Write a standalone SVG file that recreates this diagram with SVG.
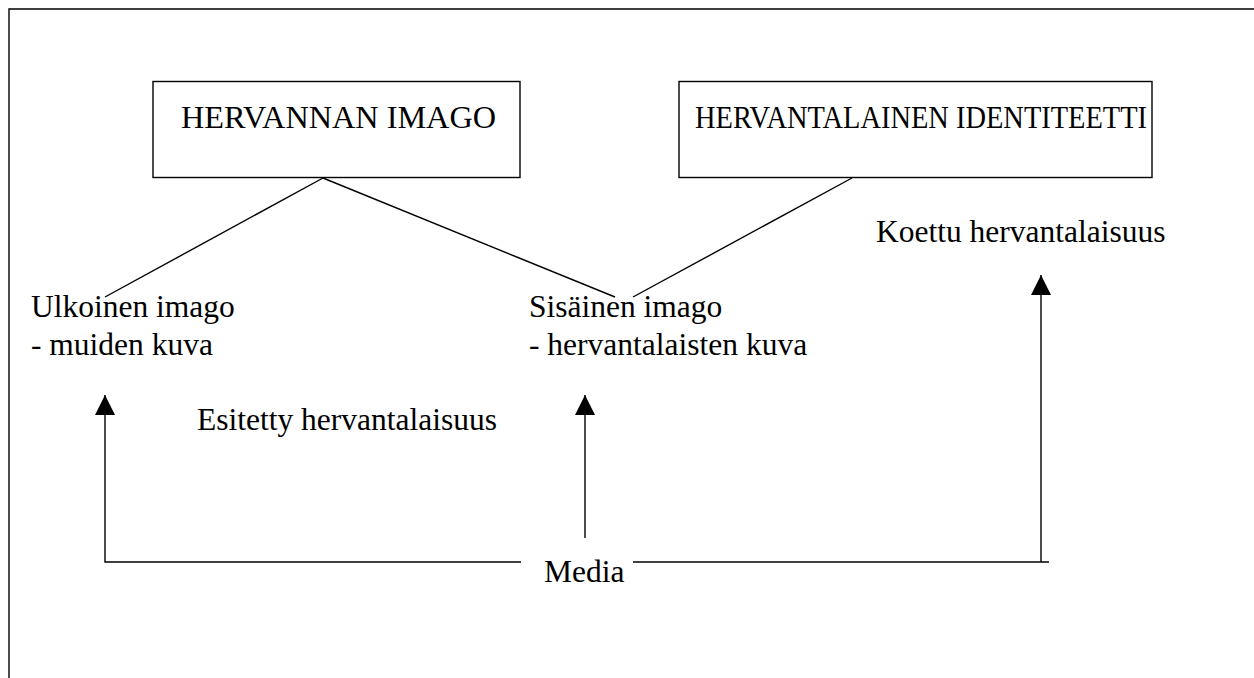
<svg xmlns="http://www.w3.org/2000/svg" width="1254" height="678" viewBox="0 0 1254 678">
<style>
  text { font-family: "Liberation Serif", "Times New Roman", serif; font-size: 31.5px; fill: #000; }
  .box { fill: #fff; stroke: #000; stroke-width: 1.4; }
  .ln { fill: none; stroke: #000; stroke-width: 1.4; }
</style>
<defs>
  <marker id="arr" markerUnits="userSpaceOnUse" markerWidth="22" markerHeight="22" viewBox="0 0 22 22" refX="20" refY="11" orient="auto">
    <path d="M20,11 L0,1 L0,21 Z" fill="#000"/>
  </marker>
</defs>
<rect width="1254" height="678" fill="#fff"/>
<g id="frame">
  <path class="ln" d="M9,678 L9,9 L1254,9"/>
</g>
<g id="node-imago">
  <rect class="box" x="153" y="81.5" width="367" height="96"/>
  <text x="181" y="128" textLength="315" lengthAdjust="spacingAndGlyphs">HERVANNAN IMAGO</text>
</g>
<g id="node-identiteetti">
  <rect class="box" x="679" y="81.5" width="473" height="96"/>
  <text x="695" y="128" textLength="452" lengthAdjust="spacingAndGlyphs">HERVANTALAINEN IDENTITEETTI</text>
</g>
<g id="node-ulkoinen">
  <text x="31" y="317">Ulkoinen imago</text>
  <text x="31" y="355">- muiden kuva</text>
</g>
<g id="node-sisainen">
  <text x="529" y="317">Sisäinen imago</text>
  <text x="529" y="355">- hervantalaisten kuva</text>
</g>
<g id="node-koettu">
  <text x="876" y="242">Koettu hervantalaisuus</text>
</g>
<g id="node-esitetty">
  <text x="197" y="430">Esitetty hervantalaisuus</text>
</g>
<g id="node-media">
  <text x="544" y="582">Media</text>
</g>
<g id="connectors">
  <line class="ln" x1="323" y1="178" x2="105" y2="297"/>
  <line class="ln" x1="323" y1="178" x2="615" y2="297"/>
  <line class="ln" x1="852" y1="178" x2="633" y2="297"/>
  <path class="ln" d="M521,562 L105,562 L105,395" marker-end="url(#arr)"/>
  <line class="ln" x1="585" y1="538" x2="585" y2="395" marker-end="url(#arr)"/>
  <path class="ln" d="M633,562 L1049,562"/>
  <line class="ln" x1="1041" y1="562" x2="1041" y2="275" marker-end="url(#arr)"/>
</g>
</svg>
